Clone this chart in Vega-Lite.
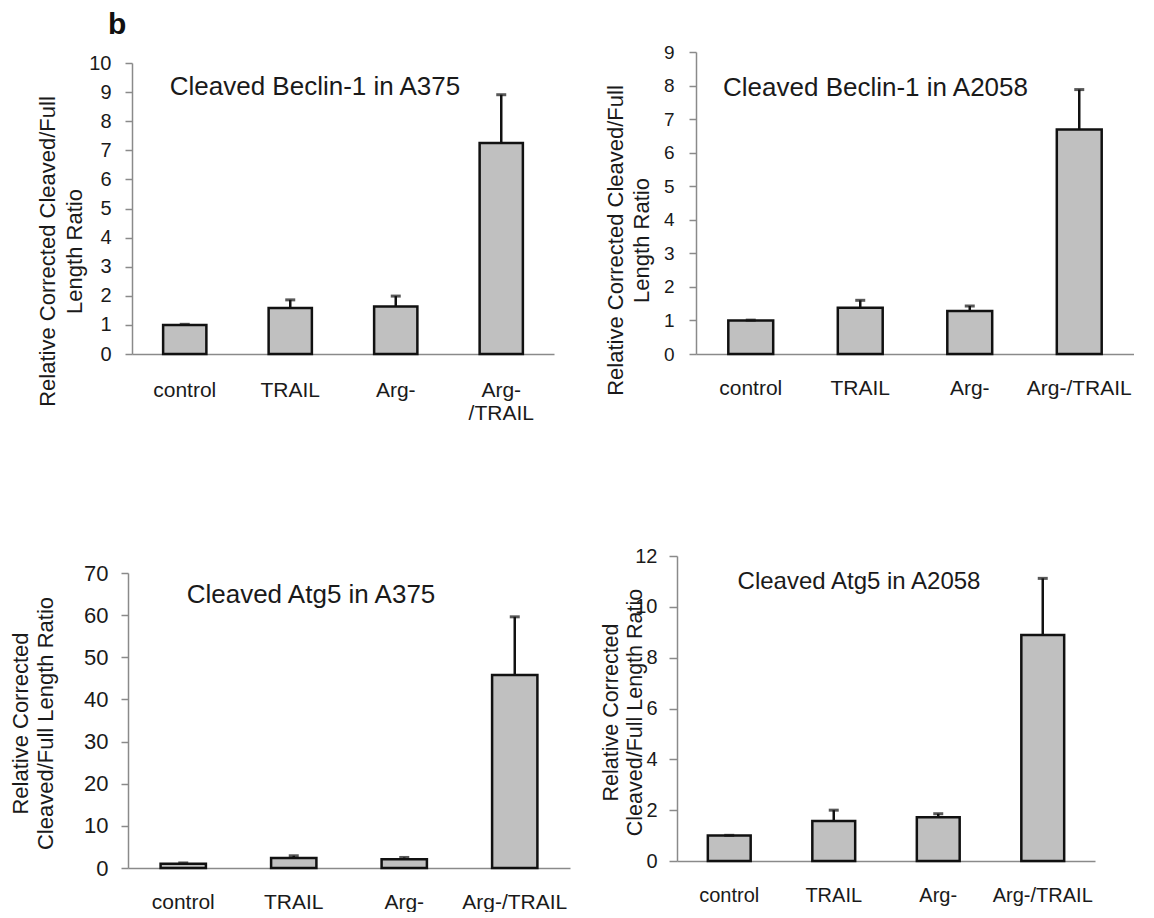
{
  "$schema": "https://vega.github.io/schema/vega-lite/v6.json",
  "background": "white",
  "padding": {"left": 9, "top": 9, "right": 0, "bottom": 0},
  "title": {"text": "b", "anchor": "start", "frame": "group", "fontSize": 30, "fontWeight": "bold", "font": "Liberation Sans", "color": "#111111", "baseline": "alphabetic", "offset": -20.5, "dx": -20},
  "config": {
    "view": {"stroke": null},
    "axis": {"grid": false, "labelOverlap": false, "domainColor": "#8a8a8a", "domainWidth": 1.5, "tickColor": "#8a8a8a", "tickWidth": 1.5, "labelFont": "Liberation Sans", "labelColor": "#1a1a1a", "titleFont": "Liberation Sans", "titleFontWeight": "normal", "titleColor": "#1a1a1a"},
    "title": {"font": "Liberation Sans", "fontWeight": "normal", "color": "#1a1a1a"}
  },
  "datasets": {
    "p1": [
      {"group": "control", "value": 1.0, "upper": 1.02},
      {"group": "TRAIL", "value": 1.58, "upper": 1.86},
      {"group": "Arg-", "value": 1.63, "upper": 1.99},
      {"group": "Arg-/TRAIL", "value": 7.25, "upper": 8.91}
    ],
    "p2": [
      {"group": "control", "value": 1.0, "upper": 1.01},
      {"group": "TRAIL", "value": 1.38, "upper": 1.6},
      {"group": "Arg-", "value": 1.28, "upper": 1.43},
      {"group": "Arg-/TRAIL", "value": 6.69, "upper": 7.88}
    ],
    "p3": [
      {"group": "control", "value": 1.0, "upper": 1.2},
      {"group": "TRAIL", "value": 2.4, "upper": 2.9},
      {"group": "Arg-", "value": 2.05, "upper": 2.5},
      {"group": "Arg-/TRAIL", "value": 45.8, "upper": 59.6}
    ],
    "p4": [
      {"group": "control", "value": 1.0, "upper": 1.01},
      {"group": "TRAIL", "value": 1.57, "upper": 2.0},
      {"group": "Arg-", "value": 1.72, "upper": 1.86},
      {"group": "Arg-/TRAIL", "value": 8.89, "upper": 11.12}
    ]
  },
  "bounds": "flush",
  "columns": 2,
  "spacing": {"row": 202, "column": 107},
  "concat": [
    {
      "width": 426, "height": 302,
      "data": {"name": "p1"},
      "title": {"text": "Cleaved Beclin-1 in A375", "anchor": "middle", "frame": "group", "fontSize": 26, "baseline": "alphabetic", "offset": -69, "dx": -26},
      "encoding": {
        "x": {"field": "group", "type": "nominal", "sort": null,
          "scale": {"range": [4, 426], "paddingInner": 0.59, "paddingOuter": 0.295},
          "axis": {"title": null, "ticks": false, "tickSize": 0, "labelAngle": 0, "labelFontSize": 21, "labelBaseline": "alphabetic", "labelPadding": 42, "labelLineHeight": 23, "labelLimit": 300,
            "labelExpr": "datum.label == 'Arg-/TRAIL' ? ['Arg-', '/TRAIL'] : datum.label"}},
        "y": {"field": "value", "type": "quantitative",
          "scale": {"domain": [0, 10], "range": [302, 11], "nice": false},
          "axis": {"values": [0,1,2,3,4,5,6,7,8,9,10], "tickCount": 11, "labelOverlap": false, "labelFontSize": 20, "labelPadding": 14, "tickSize": 7, "offset": -4,
            "title": ["Relative Corrected Cleaved/Full", "Length Ratio"], "titleFontSize": 22, "titleLineHeight": 27, "titleAngle": -90, "titleAlign": "center", "titleBaseline": "middle", "titleX": -85, "titleY": 199}}
      },
      "layer": [
        {"mark": {"type": "bar", "fill": "#c0c0c0", "stroke": "#111111", "strokeWidth": 2.5}},
        {"mark": {"type": "rule", "color": "#111111", "strokeWidth": 2.5}, "encoding": {"y2": {"field": "upper"}}},
        {"mark": {"type": "tick", "orient": "horizontal", "color": "#111111", "thickness": 3, "size": 10},
         "encoding": {"y": {"field": "upper", "type": "quantitative",
          "axis": {"values": [0,1,2,3,4,5,6,7,8,9,10], "tickCount": 11, "labelOverlap": false, "labelFontSize": 20, "labelPadding": 14, "tickSize": 7, "offset": -4,
            "title": ["Relative Corrected Cleaved/Full", "Length Ratio"], "titleFontSize": 22, "titleLineHeight": 27, "titleAngle": -90, "titleAlign": "center", "titleBaseline": "middle", "titleX": -85, "titleY": 199}}}}
      ]
    },
    {
      "width": 457, "height": 302,
      "data": {"name": "p2"},
      "title": {"text": "Cleaved Beclin-1 in A2058", "anchor": "middle", "frame": "group", "fontSize": 26, "baseline": "alphabetic", "offset": -78.5, "dx": -30},
      "encoding": {
        "x": {"field": "group", "type": "nominal", "sort": null,
          "scale": {"range": [19, 457], "paddingInner": 0.59, "paddingOuter": 0.295},
          "axis": {"title": null, "ticks": false, "tickSize": 0, "labelAngle": 0, "labelFontSize": 21, "labelBaseline": "alphabetic", "labelPadding": 40, "labelLimit": 300}},
        "y": {"field": "value", "type": "quantitative",
          "scale": {"domain": [0, 9], "nice": false},
          "axis": {"values": [0,1,2,3,4,5,6,7,8,9], "tickCount": 10, "labelOverlap": false, "labelFontSize": 19, "labelPadding": 15, "tickSize": 7, "offset": -19,
            "title": ["Relative Corrected Cleaved/Full", "Length Ratio"], "titleFontSize": 22, "titleLineHeight": 26, "titleAngle": -90, "titleAlign": "center", "titleBaseline": "middle", "titleX": -81, "titleY": 188}}
      },
      "layer": [
        {"mark": {"type": "bar", "fill": "#c0c0c0", "stroke": "#111111", "strokeWidth": 2.5}},
        {"mark": {"type": "rule", "color": "#111111", "strokeWidth": 2.5}, "encoding": {"y2": {"field": "upper"}}},
        {"mark": {"type": "tick", "orient": "horizontal", "color": "#111111", "thickness": 3, "size": 10},
         "encoding": {"y": {"field": "upper", "type": "quantitative",
          "axis": {"values": [0,1,2,3,4,5,6,7,8,9], "tickCount": 10, "labelOverlap": false, "labelFontSize": 19, "labelPadding": 15, "tickSize": 7, "offset": -19,
            "title": ["Relative Corrected Cleaved/Full", "Length Ratio"], "titleFontSize": 22, "titleLineHeight": 26, "titleAngle": -90, "titleAlign": "center", "titleBaseline": "middle", "titleX": -81, "titleY": 188}}}}
      ]
    },
    {
      "width": 442, "height": 312,
      "data": {"name": "p3"},
      "title": {"text": "Cleaved Atg5 in A375", "anchor": "middle", "frame": "group", "fontSize": 26, "baseline": "alphabetic", "offset": -73.3, "dx": -38},
      "encoding": {
        "x": {"field": "group", "type": "nominal", "sort": null,
          "scale": {"paddingInner": 0.59, "paddingOuter": 0.295},
          "axis": {"title": null, "ticks": false, "tickSize": 0, "labelAngle": 0, "labelFontSize": 21, "labelBaseline": "alphabetic", "labelPadding": 40, "labelLimit": 300}},
        "y": {"field": "value", "type": "quantitative",
          "scale": {"domain": [0, 70], "range": [312, 17], "nice": false},
          "axis": {"values": [0,10,20,30,40,50,60,70], "labelOverlap": false, "labelFontSize": 22, "labelPadding": 13, "tickSize": 7,
            "title": ["Relative Corrected", "Cleaved/Full Length Ratio"], "titleFontSize": 22, "titleLineHeight": 25, "titleAngle": -90, "titleAlign": "center", "titleBaseline": "middle", "titleX": -107.5, "titleY": 167}}
      },
      "layer": [
        {"mark": {"type": "bar", "fill": "#c0c0c0", "stroke": "#111111", "strokeWidth": 2.5}},
        {"mark": {"type": "rule", "color": "#111111", "strokeWidth": 2.5}, "encoding": {"y2": {"field": "upper"}}},
        {"mark": {"type": "tick", "orient": "horizontal", "color": "#111111", "thickness": 3, "size": 10},
         "encoding": {"y": {"field": "upper", "type": "quantitative",
          "axis": {"values": [0,10,20,30,40,50,60,70], "labelOverlap": false, "labelFontSize": 22, "labelPadding": 13, "tickSize": 7,
            "title": ["Relative Corrected", "Cleaved/Full Length Ratio"], "titleFontSize": 22, "titleLineHeight": 25, "titleAngle": -90, "titleAlign": "center", "titleBaseline": "middle", "titleX": -107.5, "titleY": 167}}}}
      ]
    },
    {
      "width": 418, "height": 305,
      "data": {"name": "p4"},
      "title": {"text": "Cleaved Atg5 in A2058", "anchor": "middle", "frame": "group", "fontSize": 24, "baseline": "alphabetic", "offset": -67.3, "dx": -27},
      "encoding": {
        "x": {"field": "group", "type": "nominal", "sort": null,
          "scale": {"paddingInner": 0.59, "paddingOuter": 0.295},
          "axis": {"title": null, "ticks": false, "tickSize": 0, "labelAngle": 0, "labelFontSize": 20, "labelBaseline": "alphabetic", "labelPadding": 40, "labelLimit": 300}},
        "y": {"field": "value", "type": "quantitative",
          "scale": {"domain": [0, 12], "nice": false},
          "axis": {"values": [0,2,4,6,8,10,12], "labelOverlap": false, "labelFontSize": 20, "labelPadding": 12, "tickSize": 8,
            "title": ["Relative Corrected", "Cleaved/Full Length Ratio"], "titleFontSize": 21.5, "titleLineHeight": 24, "titleAngle": -90, "titleAlign": "center", "titleBaseline": "middle", "titleX": -65.5, "titleY": 156}}
      },
      "layer": [
        {"mark": {"type": "bar", "fill": "#c0c0c0", "stroke": "#111111", "strokeWidth": 2.5}},
        {"mark": {"type": "rule", "color": "#111111", "strokeWidth": 2.5}, "encoding": {"y2": {"field": "upper"}}},
        {"mark": {"type": "tick", "orient": "horizontal", "color": "#111111", "thickness": 3, "size": 10},
         "encoding": {"y": {"field": "upper", "type": "quantitative",
          "axis": {"values": [0,2,4,6,8,10,12], "labelOverlap": false, "labelFontSize": 20, "labelPadding": 12, "tickSize": 8,
            "title": ["Relative Corrected", "Cleaved/Full Length Ratio"], "titleFontSize": 21.5, "titleLineHeight": 24, "titleAngle": -90, "titleAlign": "center", "titleBaseline": "middle", "titleX": -65.5, "titleY": 156}}}}
      ]
    }
  ]
}
